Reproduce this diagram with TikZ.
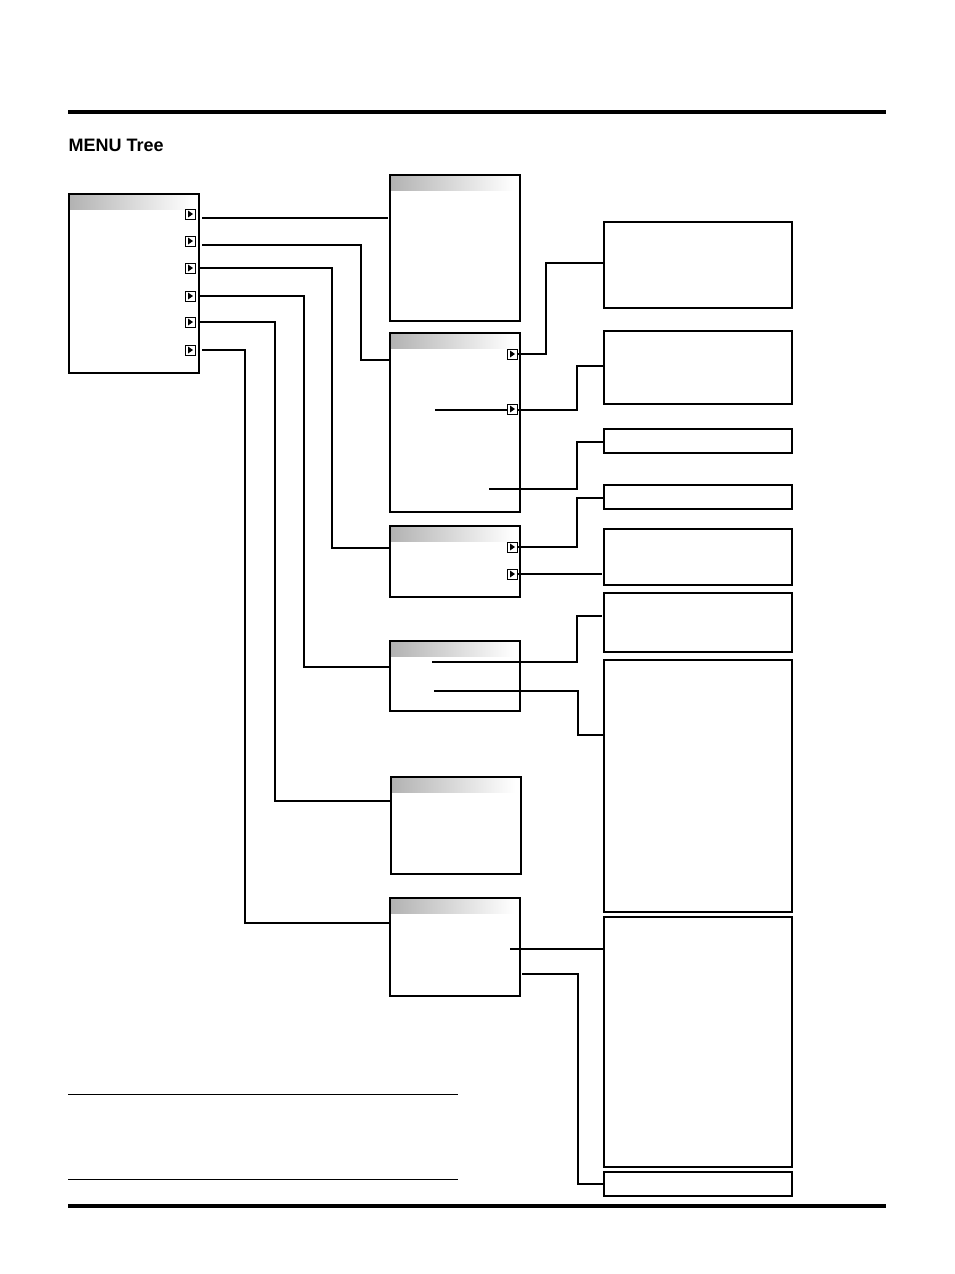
\documentclass[tikz,border=0pt]{standalone}
\usepackage{fontspec}
\setmainfont{Liberation Sans}
\begin{document}
\begin{tikzpicture}[x=0.75pt,y=-0.75pt,line width=0.9pt,
  bx/.style={draw,fill=white},
  conn/.style={line width=0.9pt},
  ico/.style={draw,line width=0.7pt,minimum size=7.5pt,inner sep=0pt,fill=white}]
\useasboundingbox (0,0) rectangle (954,1274);
\fill[white] (0,0) rectangle (954,1274);
\draw[line width=2.6pt] (68,112) -- (886,112);
\draw[line width=2.6pt] (68,1206) -- (886,1206);
\draw[line width=0.7pt] (68,1094) -- (458,1094);
\draw[line width=0.7pt] (68,1179) -- (458,1179);
\node[anchor=west,inner sep=0pt,font=\bfseries\fontsize{13.5}{15}\selectfont] (title) at (68,145) {MENU Tree};
% menu boxes with gradient bar
\foreach \n/\a/\b/\c/\d in {m/69/194/199/373, b1/390/175/520/321, b2/390/333/520/512, b3/390/526/520/597, b4/390/641/520/711, b5/391/777/521/874, b6/390/898/520/996}{
  \draw[fill=white] (\a,\b) rectangle (\c,\d);
  \shade[left color=gray!60,right color=white] (\a+1,\b+1) rectangle (\c-6,\b+15);
  \draw (\a,\b) rectangle (\c,\d);
  \coordinate (\n) at (\a,\b);
}
% right boxes
\foreach \n/\b/\d in {r1/222/308, r2/331/404, r3/429/453, r4/485/509, r5/529/585, r6/593/652, r7/660/912, r8/917/1167, r9/1172/1196}{
  \draw (604,\b) rectangle (792,\d);
  \coordinate (\n) at (604,\b);
}
% icons
\foreach \n/\x/\y in {i1/190/214, i2/190/241, i3/190/268, i4/190/296, i5/190/322, i6/190/350, j1/512/354, j2/512/409, k1/512/547, k2/512/574}{
  \node[ico] (\n) at (\x,\y) {};
  \fill (\x-2,\y-3.5) -- (\x+3,\y) -- (\x-2,\y+3.5) -- cycle;
}
% connectors
\draw[conn] (202,218) -- (388,218);
\draw[conn] (202,245) -| (361,360) -- (390,360);
\draw[conn] (200,268) -| (332,548) -- (390,548);
\draw[conn] (198,296) -| (304,667) -- (390,667);
\draw[conn] (200,322) -| (275,801) -- (391,801);
\draw[conn] (202,350) -| (245,923) -- (390,923);
\draw[conn] (517,354) -| (546,263) -- (604,263);
\draw[conn] (435,410) -- (507,410) (517,410) -| (577,366) -- (604,366);
\draw[conn] (489,489) -| (577,442) -- (604,442);
\draw[conn] (517,547) -| (577,498) -- (604,498);
\draw[conn] (517,574) -- (602,574);
\draw[conn] (432,662) -| (577,616) -- (602,616);
\draw[conn] (434,691) -| (578,735) -- (604,735);
\draw[conn] (510,949) -- (604,949);
\draw[conn] (522,974) -| (578,1184) -- (604,1184);
\end{tikzpicture}
\end{document}
